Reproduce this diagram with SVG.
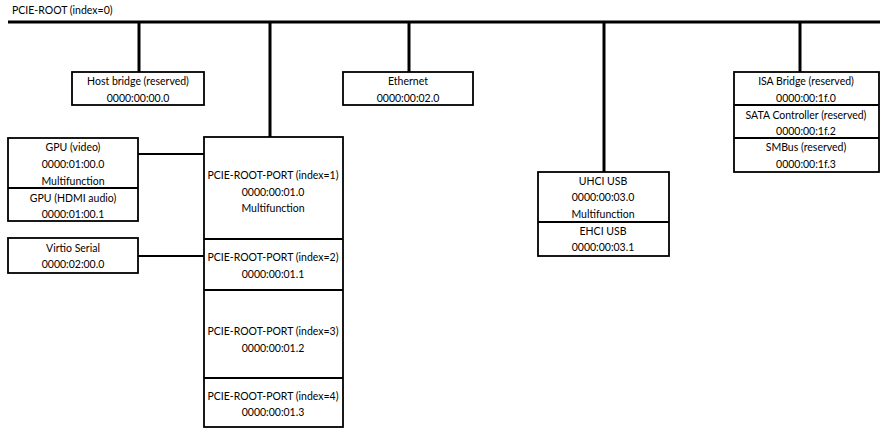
<svg xmlns="http://www.w3.org/2000/svg" width="894" height="445" viewBox="0 0 894 445">
<style>
  .box{fill:#fff;stroke:#000;stroke-width:1.8}
  .div{stroke:#000;stroke-width:1.8}
  .bus{stroke:#000;stroke-width:3;fill:none}
  .thin{stroke:#000;stroke-width:1.8;fill:none}
  text{font-family:Lato,"Open Sans","Liberation Sans",sans-serif;font-size:10.5px;fill:#000;text-anchor:middle}
  .l{text-anchor:start}
</style>
<rect width="894" height="445" fill="#fff"/>
<g id="connectors">
  <line class="bus" x1="8" y1="22" x2="880" y2="22"/>
  <line class="bus" x1="139" y1="22" x2="139" y2="72"/>
  <line class="bus" x1="270" y1="22" x2="270" y2="137"/>
  <line class="bus" x1="409" y1="22" x2="409" y2="72"/>
  <line class="bus" x1="604" y1="22" x2="604" y2="172"/>
  <line class="bus" x1="800" y1="22" x2="800" y2="72"/>
  <line class="thin" x1="138" y1="154" x2="204" y2="154"/>
  <line class="thin" x1="138" y1="256" x2="204" y2="256"/>
</g>
<g id="root-label"><text class="l" x="12" y="14">PCIE-ROOT (index=0)</text></g>
<g id="host-bridge">
  <rect class="box" x="72" y="72" width="132" height="33"/>
  <text x="138" y="85">Host bridge (reserved)</text>
  <text x="138" y="102">0000:00:00.0</text>
</g>
<g id="ethernet">
  <rect class="box" x="343" y="72" width="130" height="33"/>
  <text x="408" y="85">Ethernet</text>
  <text x="408" y="102">0000:00:02.0</text>
</g>
<g id="isa-group">
  <rect class="box" x="734" y="72" width="145" height="100"/>
  <line class="div" x1="734" y1="105" x2="879" y2="105"/>
  <line class="div" x1="734" y1="138" x2="879" y2="138"/>
  <text x="806" y="85">ISA Bridge (reserved)</text>
  <text x="806" y="102">0000:00:1f.0</text>
  <text x="806" y="119">SATA Controller (reserved)</text>
  <text x="806" y="135">0000:00:1f.2</text>
  <text x="806" y="151">SMBus (reserved)</text>
  <text x="806" y="168">0000:00:1f.3</text>
</g>
<g id="gpu">
  <rect class="box" x="8" y="138" width="130" height="83"/>
  <line class="div" x1="8" y1="188" x2="138" y2="188"/>
  <text x="73" y="151">GPU (video)</text>
  <text x="73" y="168">0000:01:00.0</text>
  <text x="73" y="185">Multifunction</text>
  <text x="73" y="202">GPU (HDMI audio)</text>
  <text x="73" y="218">0000:01:00.1</text>
</g>
<g id="virtio">
  <rect class="box" x="8" y="238" width="130" height="35"/>
  <text x="73" y="252">Virtio Serial</text>
  <text x="73" y="268">0000:02:00.0</text>
</g>
<g id="root-ports">
  <rect class="box" x="204" y="137" width="139" height="290"/>
  <line class="div" x1="204" y1="239" x2="343" y2="239"/>
  <line class="div" x1="204" y1="290" x2="343" y2="290"/>
  <line class="div" x1="204" y1="378" x2="343" y2="378"/>
  <text x="273" y="179">PCIE-ROOT-PORT (index=1)</text>
  <text x="273" y="196">0000:00:01.0</text>
  <text x="273" y="212">Multifunction</text>
  <text x="273" y="261">PCIE-ROOT-PORT (index=2)</text>
  <text x="273" y="278">0000:00:01.1</text>
  <text x="273" y="335">PCIE-ROOT-PORT (index=3)</text>
  <text x="273" y="352">0000:00:01.2</text>
  <text x="273" y="400">PCIE-ROOT-PORT (index=4)</text>
  <text x="273" y="416">0000:00:01.3</text>
</g>
<g id="usb">
  <rect class="box" x="538" y="172" width="131" height="84"/>
  <line class="div" x1="538" y1="222" x2="669" y2="222"/>
  <text x="603" y="185">UHCI USB</text>
  <text x="603" y="201">0000:00:03.0</text>
  <text x="603" y="218">Multifunction</text>
  <text x="603" y="235">EHCI USB</text>
  <text x="603" y="251">0000:00:03.1</text>
</g>
</svg>
